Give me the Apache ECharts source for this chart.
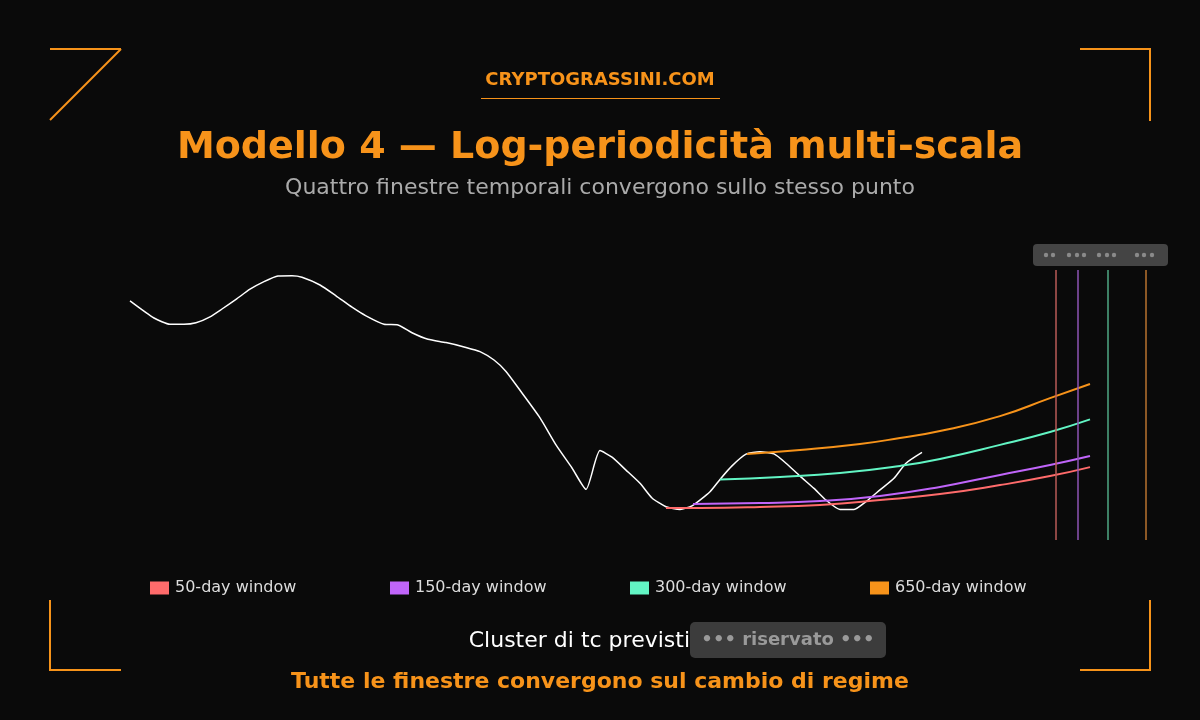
<!DOCTYPE html>
<html>
<head>
<meta charset="utf-8">
<title>Modello 4</title>
<script src="https://cdn.jsdelivr.net/npm/echarts@6/dist/echarts.min.js"></script>
<style>
html,body{margin:0;padding:0;background:#0a0a0a;}
#chart{width:1200px;height:720px;}
</style>
</head>
<body>
<div id="chart"></div>
<script>
// prezzo (scala normalizzata), x = giorni
var priceX = [0,12,20,27,33,40,46,53,60,66,74,81,86,95,103,111,118,127,134,141,149,158,168,175,182,188,196,205,213,221,228,235,241,248,255,261,268,275,281,290,295,301,308,315,322,328,335,342,348,355,362,368,375,382,388,396];
var priceY = [79.7,74,71.9,71.9,72.4,74.4,77,80.2,83.6,85.8,88,88.1,87.6,85,81.4,77.6,74.7,71.9,71.7,69.1,66.9,65.8,64.2,62.8,60,56.2,49,40.7,31.7,24,16.9,29.8,27.6,23.3,18.9,14,11.1,10.2,11.4,16.1,20.2,24.7,28.6,29.4,28.7,25.6,21.3,17.2,13.3,10.2,10.2,12.8,16.7,20.6,25.6,29.2];

var windowNames = ['50-day window','150-day window','300-day window','650-day window'];
var windowColors = ['#ff6b6b','#c065fa','#62f5c4','#f7931a'];
var markColors = ['#b95b57','#8e55b4','#4fa985','#b8732f'];

var fitX = [
	[268,285,315,345,375,405,435,460,480],
	[281.5,315,345,375,405,435,460,480],
	[295,325,355,385,405,435,460,480],
	[308.5,335,365,385,405,435,460,480]
];
var fitY = [
	[10.7,10.7,11,11.7,13.3,15.3,18.3,21.3,24.3],
	[12,12.3,13,14.7,17.7,21.7,25,28],
	[20.2,21,22.3,24.7,27,31.7,36,40.2],
	[28.7,30,32,34,36.3,41.3,47.3,52]
];
// tc previsti per ciascuna finestra
var tcX = [463,474,489,508];

var orange = '#f7931a';
var font = 'DejaVu Sans';

function pairs(xs, ys)
{
	var out = [];
	for(var i=0;i<xs.length;i++)
	{
		out.push([xs[i], ys[i]]);
	}
	return out;
}

var myChart = echarts.init(document.getElementById('chart'));

var series = [];
series.push({
	name:'price',
	type:'line',
	data:pairs(priceX, priceY),
	showSymbol:false,
	smooth:0.2,
	lineStyle:{color:'#ffffff',width:1.5},
	z:3,
	silent:true
});
for(var i=0;i<windowNames.length;i++)
{
	series.push({
		name:windowNames[i],
		type:'line',
		data:pairs(fitX[i], fitY[i]),
		showSymbol:false,
		smooth:true,
		itemStyle:{color:windowColors[i]},
		lineStyle:{color:windowColors[i],width:2},
		z:4,
		markLine:{
			silent:true,
			symbol:'none',
			label:{show:false},
			lineStyle:{color:markColors[i],width:1.5,type:'solid'},
			data:[[{coord:[tcX[i],0]},{coord:[tcX[i],90]}]]
		}
	});
}

var legends = [];
for(var i=0;i<windowNames.length;i++)
{
	legends.push({
		data:[windowNames[i]],
		left:145 + i*240,
		top:575,
		icon:'rect',
		itemWidth:19,
		itemHeight:13,
		itemGap:0,
		selectedMode:false,
		textStyle:{color:'#dddddd',fontSize:16,fontFamily:font,padding:[0,0,0,1]}
	});
}

// cornici arancioni negli angoli
function seg(x1,y1,x2,y2)
{
	return {type:'line',shape:{x1:x1,y1:y1,x2:x2,y2:y2},style:{stroke:orange,lineWidth:2}};
}

var graphic = [
	seg(50,49,121,49), seg(121,49,50,120),
	seg(1080,49,1151,49), seg(1150,49,1150,121),
	seg(50,600,50,671), seg(49,670,121,670),
	seg(1150,600,1150,671), seg(1080,670,1151,670),
	{type:'text',left:'center',top:71,style:{text:'CRYPTOGRASSINI.COM',fill:orange,font:'bold 18px "DejaVu Sans"'}},
	{type:'line',shape:{x1:481,y1:98.5,x2:720,y2:98.5},style:{stroke:orange,lineWidth:1}},
	{type:'text',left:'center',top:129,style:{text:'Modello 4 \u2014 Log-periodicit\u00e0 multi-scala',fill:orange,font:'bold 38px "DejaVu Sans"'}},
	{type:'text',left:'center',top:177,style:{text:'Quattro finestre temporali convergono sullo stesso punto',fill:'#aaaaaa',font:'22px "DejaVu Sans"'}},
	{type:'rect',shape:{x:1033,y:244,width:135,height:22,r:4},style:{fill:'#444444'}},
	{type:'text',x:690,y:641,style:{text:'Cluster di tc previsti',fill:'#ffffff',font:'22px "DejaVu Sans"',align:'right',verticalAlign:'middle'}},
	{type:'rect',shape:{x:690,y:622,width:196,height:36,r:5},style:{fill:'#3c3c3c'}},
	{type:'text',x:788,y:640,style:{text:'\u2022\u2022\u2022 riservato \u2022\u2022\u2022',fill:'#9a9a9a',font:'bold 18px "DejaVu Sans"',align:'center',verticalAlign:'middle'}},
	{type:'text',left:'center',top:671,style:{text:'Tutte le finestre convergono sul cambio di regime',fill:orange,font:'bold 22px "DejaVu Sans"'}}
];

// puntini del badge "riservato" in alto a destra
var badgeDots = [1046,1053,1069,1077,1084,1099,1107,1114,1137,1144,1152];
for(var i=0;i<badgeDots.length;i++)
{
	graphic.push({type:'circle',shape:{cx:badgeDots[i],cy:255,r:2.2},style:{fill:'#8a8a8a'}});
}

var option = {
	backgroundColor:'#0a0a0a',
	animation:false,
	textStyle:{fontFamily:font},
	grid:{left:130,right:50,top:240,bottom:180},
	xAxis:{type:'value',min:0,max:510,show:false},
	yAxis:{type:'value',min:0,max:100,show:false},
	legend:legends,
	series:series,
	graphic:graphic
};
myChart.setOption(option);
</script>
</body>
</html>
